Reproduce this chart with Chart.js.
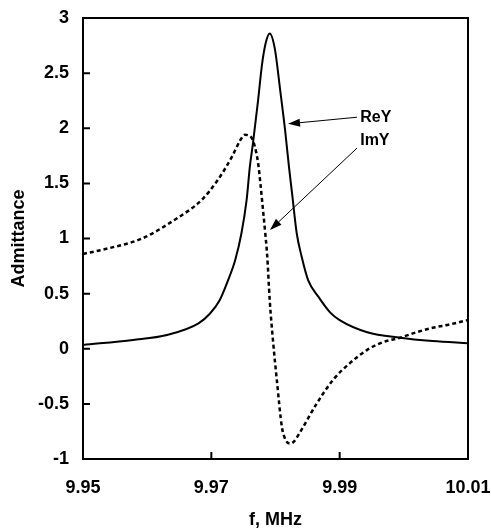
<!DOCTYPE html>
<html>
<head>
<meta charset="utf-8">
<script src="https://cdn.jsdelivr.net/npm/chart.js@4/dist/chart.umd.min.js"></script>
<style>
  body { margin: 0; background: #fff; }
  canvas { display: block; }
</style>
</head>
<body>
<canvas id="admittance-chart" width="491" height="529"></canvas>
<script>
// frequency (MHz) and real part of admittance
const reF = [9.9500, 9.9578, 9.9631, 9.9680, 9.9698, 9.9713, 9.9726, 9.9737, 9.9747, 9.9755,
             9.9760, 9.9765, 9.9773, 9.9779, 9.9785, 9.9791, 9.9799, 9.9807, 9.9815, 9.9821,
             9.9826, 9.9833, 9.9841, 9.9851, 9.9867, 9.9885, 9.9900, 9.9943, 9.9994, 10.0045,
             10.0100];
const reY = [0.035, 0.08, 0.125, 0.23, 0.32, 0.44, 0.62, 0.80, 1.05, 1.35,
             1.65, 1.87, 2.26, 2.58, 2.78, 2.86, 2.72, 2.36, 1.98, 1.65,
             1.40, 1.05, 0.83, 0.62, 0.47, 0.33, 0.26, 0.15, 0.10, 0.07,
             0.05];

// imaginary part (dotted)
const imF = [9.9500, 9.9539, 9.9592, 9.9643, 9.9685, 9.9710, 9.9732, 9.9745, 9.9752, 9.9760,
             9.9766, 9.9773, 9.9777, 9.9780, 9.9784, 9.9787, 9.9791, 9.9796, 9.9802, 9.9810,
             9.9816, 9.9823, 9.9829, 9.9838, 9.9865, 9.9890, 9.9916, 9.9943, 9.9968, 9.9994,
             10.0020, 10.0045, 10.0071, 10.0100];
const imY = [0.86, 0.91, 1.00, 1.17, 1.35, 1.53, 1.74, 1.89, 1.94, 1.93,
             1.87, 1.68, 1.47, 1.29, 1.05, 0.85, 0.44, 0.08, -0.28, -0.71,
             -0.83, -0.86, -0.84, -0.76, -0.49, -0.28, -0.13, -0.01, 0.06, 0.10,
             0.15, 0.19, 0.22, 0.26];

const xTicks = [9.95, 9.97, 9.99, 10.01];
const yTicks = [-1, -0.5, 0, 0.5, 1, 1.5, 2, 2.5, 3];

// labels with arrows: text position, arrow tail, arrow tip (data units)
const noteLabels = ['ReY', 'ImY'];
const noteText = [[9.9932, 2.10], [9.9932, 1.89]];
const noteTail = [[9.9927, 2.10], [9.9927, 1.82]];
const noteTip = [[9.98195, 2.04], [9.97914, 1.077]];

const FONT = 'Arial, "Liberation Sans", sans-serif';

function toPoints(xs, ys) {
    return xs.map((v, i) => ({ x: v, y: ys[i] }));
}

const frameAndNotes = {
    id: 'frameAndNotes',
    afterDatasetsDraw(chart) {
        const { ctx, chartArea: a, scales: { x, y } } = chart;
        ctx.save();
        ctx.strokeStyle = '#000';
        ctx.lineWidth = 2;
        ctx.strokeRect(a.left, a.top, a.right - a.left, a.bottom - a.top);

        // tick marks point inward
        ctx.beginPath();
        yTicks.forEach(v => {
            const py = y.getPixelForValue(v);
            ctx.moveTo(a.left, py);
            ctx.lineTo(a.left + 7, py);
        });
        xTicks.forEach(v => {
            const px = x.getPixelForValue(v);
            ctx.moveTo(px, a.bottom);
            ctx.lineTo(px, a.bottom - 7);
        });
        ctx.stroke();

        // arrows + labels
        ctx.fillStyle = '#000';
        ctx.font = 'bold 16px ' + FONT;
        ctx.textAlign = 'left';
        ctx.textBaseline = 'middle';
        noteLabels.forEach((label, i) => {
            const tx = x.getPixelForValue(noteTail[i][0]), ty = y.getPixelForValue(noteTail[i][1]);
            const hx = x.getPixelForValue(noteTip[i][0]), hy = y.getPixelForValue(noteTip[i][1]);
            const ang = Math.atan2(hy - ty, hx - tx);
            const len = 12, half = 4;
            const bx = hx - len * Math.cos(ang), by = hy - len * Math.sin(ang);
            ctx.lineWidth = 1;
            ctx.beginPath();
            ctx.moveTo(tx, ty);
            ctx.lineTo(bx, by);
            ctx.stroke();
            ctx.beginPath();
            ctx.moveTo(hx, hy);
            ctx.lineTo(bx + half * Math.sin(ang), by - half * Math.cos(ang));
            ctx.lineTo(bx - half * Math.sin(ang), by + half * Math.cos(ang));
            ctx.closePath();
            ctx.fill();
            ctx.fillText(label, x.getPixelForValue(noteText[i][0]), y.getPixelForValue(noteText[i][1]));
        });
        ctx.restore();
    }
};

new Chart(document.getElementById('admittance-chart').getContext('2d'), {
    type: 'scatter',
    data: {
        datasets: [
            {
                label: 'ReY',
                data: toPoints(reF, reY),
                showLine: true,
                borderColor: '#000',
                borderWidth: 2,
                pointRadius: 0,
                cubicInterpolationMode: 'monotone'
            },
            {
                label: 'ImY',
                data: toPoints(imF, imY),
                showLine: true,
                borderColor: '#000',
                borderWidth: 2.5,
                borderDash: [4, 3],
                pointRadius: 0,
                cubicInterpolationMode: 'monotone'
            }
        ]
    },
    options: {
        responsive: false,
        animation: false,
        layout: { padding: { left: 0, right: 23, top: 18, bottom: 0 } },
        plugins: { legend: { display: false }, tooltip: { enabled: false } },
        scales: {
            x: {
                type: 'linear',
                min: 9.95,
                max: 10.01,
                grid: { display: false, drawTicks: false },
                border: { display: false },
                afterBuildTicks: s => { s.ticks = xTicks.map(v => ({ value: v })); },
                afterFit: s => { s.height = 70; s.paddingLeft = 0; s.paddingRight = 0; },
                ticks: {
                    color: '#000',
                    font: { family: FONT, size: 18, weight: 'bold' },
                    padding: 18,
                    maxRotation: 0,
                    autoSkip: false,
                    callback: v => String(v)
                },
                title: {
                    display: true,
                    text: 'f, MHz',
                    color: '#000',
                    font: { family: FONT, size: 18, weight: 'bold', lineHeight: 1 },
                    padding: 0
                }
            },
            y: {
                min: -1,
                max: 3,
                grid: { display: false, drawTicks: false },
                border: { display: false },
                afterBuildTicks: s => { s.ticks = yTicks.map(v => ({ value: v })); },
                afterFit: s => { s.width = 83; s.paddingTop = 0; s.paddingBottom = 0; },
                ticks: {
                    color: '#000',
                    font: { family: FONT, size: 18, weight: 'bold' },
                    padding: 14,
                    autoSkip: false,
                    callback: v => String(v)
                },
                title: {
                    display: true,
                    text: 'Admittance',
                    color: '#000',
                    font: { family: FONT, size: 18, weight: 'bold', lineHeight: 1.2 },
                    padding: { top: 8, bottom: 0 }
                }
            }
        }
    },
    plugins: [frameAndNotes]
});
</script>
</body>
</html>
